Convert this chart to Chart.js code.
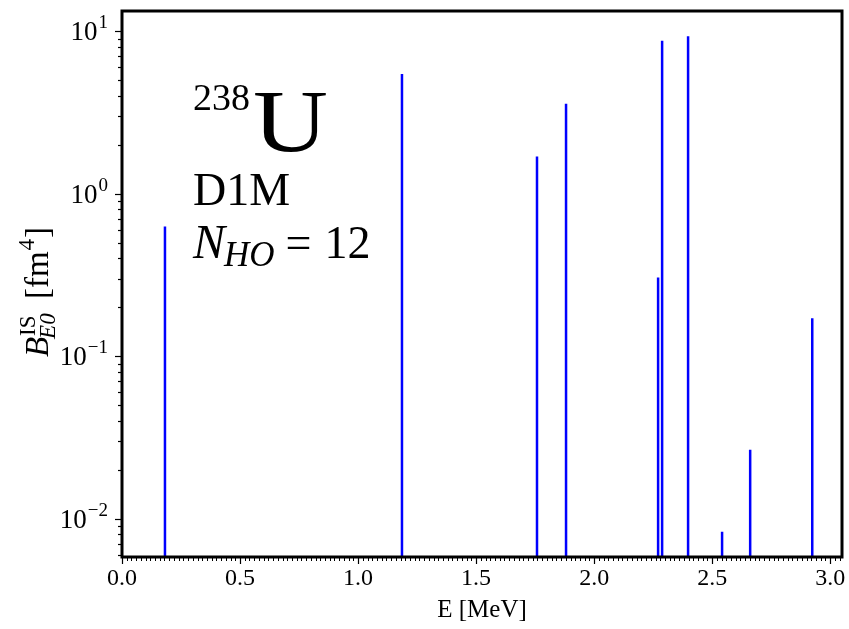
<!DOCTYPE html>
<html>
<head>
<meta charset="utf-8">
<script src="https://cdn.jsdelivr.net/npm/chart.js@4/dist/chart.umd.min.js"></script>
<style>
  html, body { margin: 0; padding: 0; background: #ffffff; }
  #wrap { width: 849px; height: 629px; }
</style>
</head>
<body>
<div id="wrap"><canvas id="c" width="849" height="629"></canvas></div>
<script>
// E0 transition energies (MeV) and isoscalar strengths B(E0) (fm^4)
const energies  = [0.182, 1.186, 1.758, 1.881, 2.271, 2.288, 2.398, 2.542, 2.661, 2.924];
const strengths = [0.627, 5.45, 1.69, 3.57, 0.305, 8.72, 9.30, 0.0083, 0.0265, 0.171];

// axis ranges and tick definitions
const xRange = [0, 3.05];
const yRange = [0.0058, 13.3];
const xMajorStep = 0.5;
const xMinorStep = 0.02;
const yDecades = [-2, -1, 0, 1];

const SERIF = '"Liberation Serif", "DejaVu Serif", serif';

// each stem runs from the bottom of the axis up to its strength; null breaks the line
const stemPoints = [];
energies.forEach((e, i) => {
  stemPoints.push({ x: e, y: yRange[0] });
  stemPoints.push({ x: e, y: strengths[i] });
  stemPoints.push({ x: e, y: null });
});

// frame, tick marks, log tick labels, y-axis title and annotation text
const decorations = {
  id: 'decorations',
  afterDraw(chart) {
    const ctx = chart.ctx;
    const area = chart.chartArea;
    const xs = chart.scales.x;
    const ys = chart.scales.y;
    ctx.save();

    // minor x ticks
    ctx.strokeStyle = '#000';
    ctx.lineWidth = 1;
    const nMinor = Math.floor(xRange[1] / xMinorStep + 1e-6);
    for (let k = 0; k <= nMinor; k++) {
      const v = k * xMinorStep;
      const px = Math.round(xs.getPixelForValue(v)) + 0.5;
      ctx.beginPath();
      ctx.moveTo(px, area.bottom);
      ctx.lineTo(px, area.bottom + 4);
      ctx.stroke();
    }

    // y ticks: major at decades, minor at 2..9 x decade
    ctx.lineWidth = 1.2;
    for (let d = -3; d <= 1; d++) {
      for (let m = 1; m <= 9; m++) {
        const v = m * Math.pow(10, d);
        if (v < yRange[0] || v > yRange[1]) continue;
        const py = Math.round(ys.getPixelForValue(v)) + 0.5;
        const len = m === 1 ? 7 : 4;
        ctx.beginPath();
        ctx.moveTo(area.left, py);
        ctx.lineTo(area.left - len, py);
        ctx.stroke();
      }
    }

    // decade labels 10^n
    ctx.fillStyle = '#000';
    ctx.textBaseline = 'alphabetic';
    yDecades.forEach(d => {
      const py = ys.getPixelForValue(Math.pow(10, d));
      const exp = d < 0 ? '\u2212' + Math.abs(d) : String(d);
      ctx.font = '19px ' + SERIF;
      const ew = ctx.measureText(exp).width;
      ctx.font = '27px ' + SERIF;
      const bw = ctx.measureText('10').width;
      const right = area.left - 14;
      ctx.textAlign = 'left';
      ctx.fillText('10', right - ew - bw - 1, py + 9);
      ctx.font = '19px ' + SERIF;
      ctx.fillText(exp, right - ew, py - 3);
    });

    // y-axis title: B^{IS}_{E0} [fm^4]
    ctx.save();
    ctx.translate(37, 292);
    ctx.rotate(-Math.PI / 2);
    const big = '33px ' + SERIF;
    const bigI = 'italic 33px ' + SERIF;
    const sm = '23px ' + SERIF;
    const smI = 'italic 23px ' + SERIF;
    ctx.font = bigI; const wB = ctx.measureText('B').width;
    ctx.font = sm;  const wIS = ctx.measureText('IS').width;
    ctx.font = smI; const wE0 = ctx.measureText('E0').width;
    ctx.font = big; const wFm = ctx.measureText(' [fm').width;
    ctx.font = sm;  const w4 = ctx.measureText('4').width;
    ctx.font = big; const wBr = ctx.measureText(']').width;
    const wScript = Math.max(wIS, wE0);
    const total = wB + 1 + wScript + 3 + wFm + 1 + w4 + 1 + wBr;
    let cx = -total / 2;
    const base = 11;
    ctx.textAlign = 'left';
    ctx.font = bigI; ctx.fillText('B', cx, base); cx += wB + 1;
    ctx.font = sm;  ctx.fillText('IS', cx, base - 13);
    ctx.font = smI; ctx.fillText('E0', cx - 3, base + 7);
    cx += wScript + 3;
    ctx.font = big; ctx.fillText(' [fm', cx, base); cx += wFm + 1;
    ctx.font = sm;  ctx.fillText('4', cx, base - 14); cx += w4 + 1;
    ctx.font = big; ctx.fillText(']', cx, base);
    ctx.restore();

    // nucleus, interaction and basis size annotation
    ctx.textAlign = 'left';
    ctx.font = '38px ' + SERIF;
    ctx.fillText('238', 193, 110);
    const w238 = ctx.measureText('238').width;
    ctx.save();
    ctx.translate(193 + w238 + 3, 151);
    ctx.scale(1.18, 1);
    ctx.font = '88px ' + SERIF;
    ctx.fillText('U', 0, 0);
    ctx.restore();
    ctx.font = '46px ' + SERIF;
    ctx.fillText('D1M', 193, 205);
    ctx.font = 'italic 48px ' + SERIF;
    ctx.fillText('N', 193, 258);
    const wN = ctx.measureText('N').width;
    ctx.font = 'italic 35px ' + SERIF;
    ctx.fillText('HO', 193 + wN - 1, 266);
    const wHO = ctx.measureText('HO').width;
    ctx.font = '46px ' + SERIF;
    const xEq = 193 + wN + wHO + 10;
    ctx.fillText('=', xEq, 258);
    const wEq = ctx.measureText('=').width;
    ctx.fillText('12', xEq + wEq + 13, 258);

    // plot frame
    ctx.strokeStyle = '#000';
    ctx.lineWidth = 3;
    ctx.strokeRect(area.left, area.top, area.right - area.left, area.bottom - area.top);
    ctx.restore();
  }
};

new Chart(document.getElementById('c'), {
  type: 'scatter',
  data: {
    datasets: [{
      data: stemPoints,
      showLine: true,
      spanGaps: false,
      borderColor: '#0000ff',
      borderWidth: 2.5,
      pointRadius: 0,
      pointHoverRadius: 0,
      fill: false
    }]
  },
  options: {
    responsive: false,
    animation: false,
    devicePixelRatio: 1,
    layout: { padding: { top: 11, right: 7, left: 0, bottom: 0 } },
    plugins: {
      legend: { display: false },
      tooltip: { enabled: false }
    },
    scales: {
      x: {
        type: 'linear',
        min: xRange[0],
        max: xRange[1],
        afterFit(s) { s.height = 72; },
        border: { display: false },
        grid: {
          display: true,
          drawOnChartArea: false,
          drawTicks: true,
          tickLength: 7,
          tickColor: '#000',
          tickWidth: 1.2
        },
        ticks: {
          stepSize: xMajorStep,
          includeBounds: false,
          autoSkip: false,
          maxRotation: 0,
          padding: 0,
          color: '#000',
          font: { family: SERIF, size: 24 },
          callback: v => Number(v).toFixed(1)
        },
        title: {
          display: true,
          text: 'E [MeV]',
          color: '#000',
          font: { family: SERIF, size: 25 },
          padding: { top: 0, bottom: 4 }
        }
      },
      y: {
        type: 'logarithmic',
        min: yRange[0],
        max: yRange[1],
        afterFit(s) { s.width = 122; },
        border: { display: false },
        grid: { display: false },
        ticks: { display: false }
      }
    }
  },
  plugins: [decorations]
});
</script>
</body>
</html>
